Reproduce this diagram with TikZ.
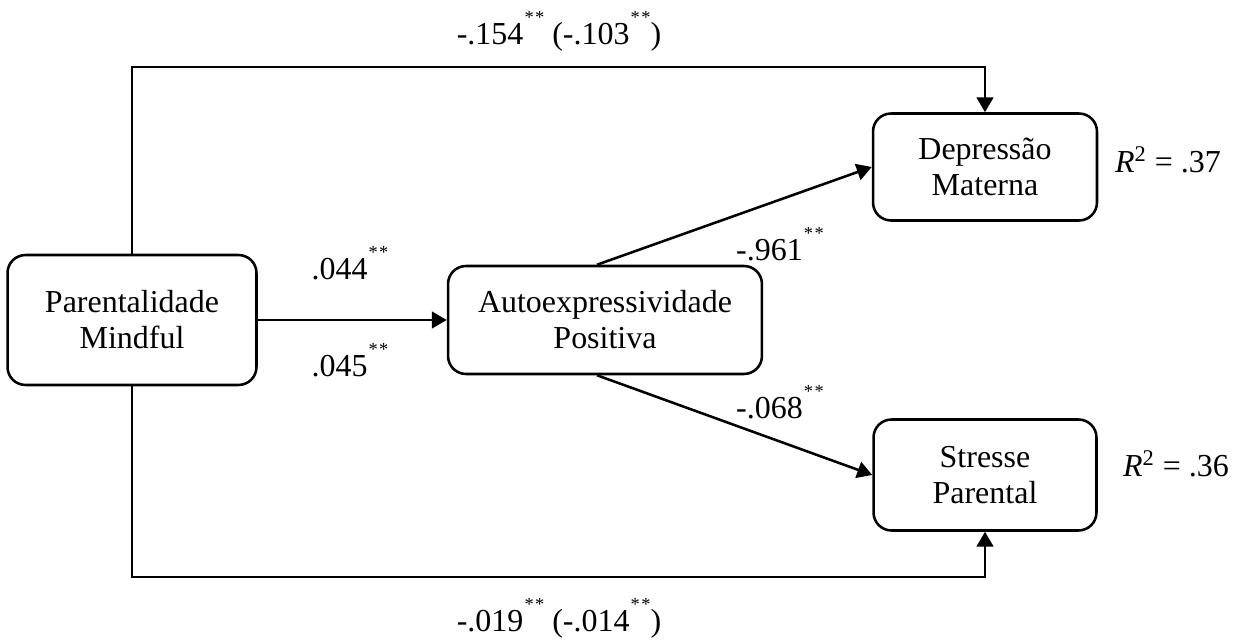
\documentclass[tikz,border=0pt]{standalone}
\usepackage{fontspec}
\setmainfont{Liberation Serif}
\usetikzlibrary{arrows.meta}
% significance stars, small and raised
\newcommand{\stars}{\kern0.6pt\raisebox{12pt}{\fontsize{10.5}{10.5}\selectfont *\kern0.8pt*}}
\begin{document}
\begin{tikzpicture}[x=0.02cm,y=-0.02cm,line width=1.45pt,
    font=\fontsize{18.2}{20.5}\selectfont,
    >={Triangle[length=8.5pt,width=9.5pt]},
    var/.style={draw,rounded corners=0.36cm,align=center,inner sep=0pt},
    coef/.style={anchor=base}]
    \useasboundingbox (0,0) rectangle (1242,641);
    \node[var,minimum width=4.98cm,minimum height=2.6cm] (pm) at (132,320) {Parentalidade\\Mindful};
    \node[var,minimum width=6.28cm,minimum height=2.16cm] (ae) at (605,320) {Autoexpressividade\\Positiva}
        edge [<-] (pm)
    ;
    \node[var,minimum width=4.48cm,minimum height=2.14cm] (dm) at (985,167) {Depressão\\Materna};
    \node[var,minimum width=4.46cm,minimum height=2.22cm] (sp) at (985,475) {Stresse\\Parental};
    % paths through the mediator
    \draw[->] ([xshift=-0.16cm]ae.north) -- (dm.west);
    \draw[->] ([xshift=-0.16cm]ae.south) -- (sp.west);
    % direct paths round the outside
    \draw[->] (pm.north) -- (pm.north |- 0,67) -| (dm.north);
    \draw[->] (pm.south) -- (pm.south |- 0,577) -| (sp.south);
    % coefficients
    \node[coef] (c1) at (559,45) {-.154\stars{} (-.103\stars)};
    \node[coef] (c2) at (559,632) {-.019\stars{} (-.014\stars)};
    \node[coef] (c3) at (350,280) {.044\stars};
    \node[coef] (c4) at (350,377) {.045\stars};
    \node[coef] (c5) at (780,261) {-.961\stars};
    \node[coef] (c6) at (780,419) {-.068\stars};
    \node[coef] (r1) at (1168,173) {\textit{R}\textsuperscript{2} = .37};
    \node[coef] (r2) at (1176,477) {\textit{R}\textsuperscript{2} = .36};
\end{tikzpicture}
\end{document}
